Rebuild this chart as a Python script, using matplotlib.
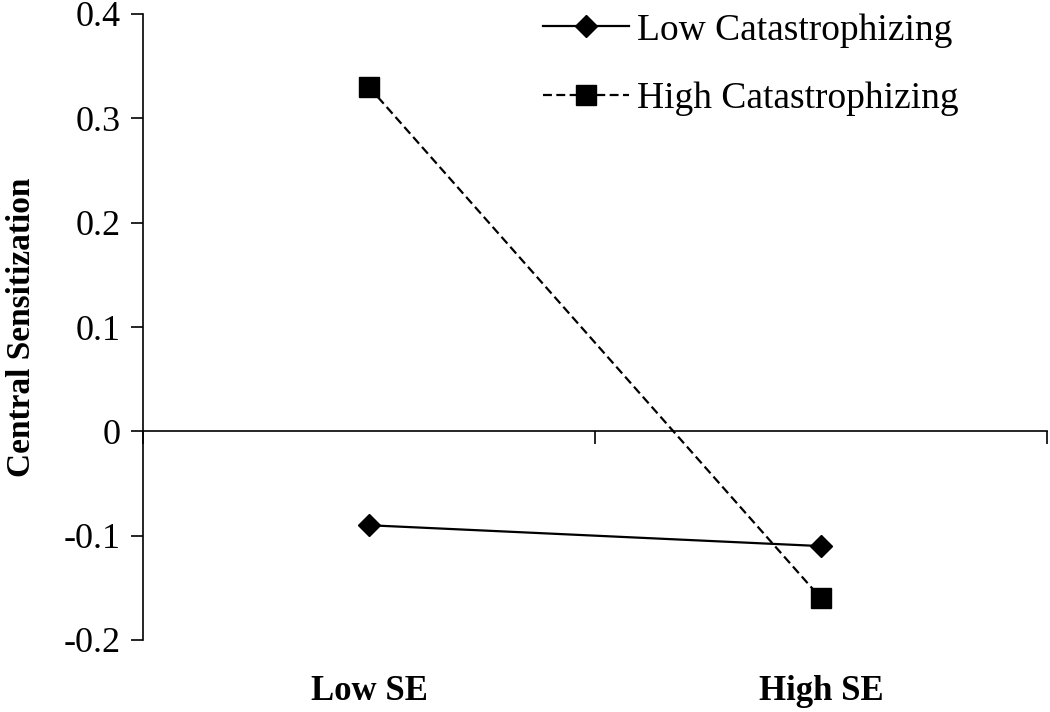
import matplotlib.pyplot as plt

plt.rcParams["font.family"] = ["Liberation Serif", "DejaVu Serif"]

categories = ["Low SE", "High SE"]
low_cat = [-0.09, -0.11]
high_cat = [0.33, -0.16]
y_ticks = [-0.2, -0.1, 0, 0.1, 0.2, 0.3, 0.4]
y_labels = ["-0.2", "-0.1", "0", "0.1", "0.2", "0.3", "0.4"]

fig = plt.figure(figsize=(10.5, 7.12), dpi=100)
ax = fig.add_axes([143 / 1050, 1 - 640 / 712, 904 / 1050, 626 / 712])

xs = [i + 0.5 for i in range(len(categories))]
ax.plot(xs, low_cat, color="black", lw=1.6, marker="D", ms=11,
        label="Low Catastrophizing")
ax.plot(xs, high_cat, color="black", lw=1.6, ls=(0, (4, 2)), marker="s",
        ms=14, label="High Catastrophizing")

ax.set_xlim(0, len(categories))
ax.set_ylim(-0.2, 0.4)
ax.set_yticks(y_ticks)
ax.set_yticklabels(y_labels, fontsize=26)
ax.tick_params(axis="y", length=9, width=1.2, pad=7)

ax.spines["top"].set_visible(False)
ax.spines["right"].set_visible(False)
ax.spines["bottom"].set_position(("data", 0))
ax.spines["left"].set_linewidth(1.2)
ax.spines["bottom"].set_linewidth(1.2)
ax.set_xticks(range(len(categories) + 1))
ax.set_xticklabels([])
ax.tick_params(axis="x", length=9, width=1.2, direction="out")

for x, lab in zip(xs, categories):
    ax.annotate(lab, xy=(x, 0), xycoords=("data", "axes fraction"),
                xytext=(0, -37), textcoords="offset points",
                ha="center", va="center", fontsize=25, fontweight="bold")

fig.text(22 / 1050, 1 - 327 / 712, "Central Sensitization", rotation=90,
         ha="center", va="center", fontsize=24, fontweight="bold")

ax.legend(loc="upper left", bbox_to_anchor=(543 / 1050, 1 - 13 / 712),
          bbox_transform=fig.transFigure, frameon=False, fontsize=27,
          handlelength=2.3, handletextpad=0.2, labelspacing=0.92,
          borderaxespad=0, borderpad=0)

fig.savefig("out.png", dpi=100)
